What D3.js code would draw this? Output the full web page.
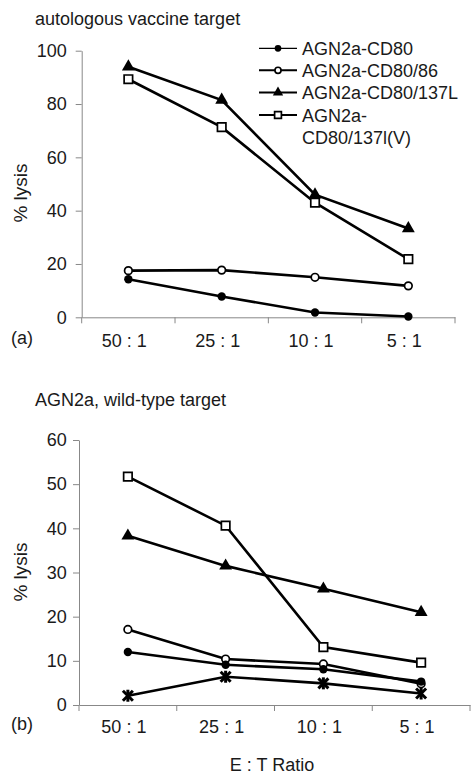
<!DOCTYPE html>
<html>
<head>
<meta charset="utf-8">
<script src="https://cdn.jsdelivr.net/npm/d3@7"></script>
<style>
  body { margin: 0; background: #fff; }
  svg text { font-family: "Liberation Sans", Arial, sans-serif; fill: #1a1a1a; }
</style>
</head>
<body>
<div id="chart"></div>
<script>
// E:T ratio categories (both panels)
const ratios = ["50 : 1", "25 : 1", "10 : 1", "5 : 1"];

// (a) autologous vaccine target, % lysis
const cd80_a     = [14.3, 7.8, 1.8, 0.3];
const cd8086_a   = [17.5, 17.7, 15.0, 11.8];
const cd80137L_a = [94.0, 81.5, 46.0, 33.3];
const cd80137V_a = [89.3, 71.3, 43.0, 21.8];

// (b) AGN2a wild-type target, % lysis
const cd80_b     = [12.0, 9.1, 8.1, 5.3];
const cd8086_b   = [17.1, 10.4, 9.3, 4.8];
const cd80137L_b = [38.3, 31.5, 26.3, 21.0];
const cd80137V_b = [51.7, 40.6, 13.1, 9.6];
const other_b    = [2.1, 6.4, 4.9, 2.6];   // series with star marker, not in legend

const ticksA = [0, 20, 40, 60, 80, 100];
const ticksB = [0, 10, 20, 30, 40, 50, 60];

const legendNames = ["AGN2a-CD80", "AGN2a-CD80/86", "AGN2a-CD80/137L", ["AGN2a-", "CD80/137l(V)"]];

const width = 473, height = 775;
const axisColor = "#888";

const svg = d3.select("#chart").append("svg")
  .attr("width", width)
  .attr("height", height);

// draw one marker type at (x, y)
function marker(g, type, x, y, scale) {
  const s = scale || 1;
  if (type === "dot") {
    g.append("circle").attr("cx", x).attr("cy", y).attr("r", 4.2 * s).attr("fill", "#000");
  } else if (type === "ring") {
    g.append("circle").attr("cx", x).attr("cy", y).attr("r", 3.8 * s)
      .attr("fill", "#fff").attr("stroke", "#000").attr("stroke-width", 1.7);
  } else if (type === "tri") {
    g.append("path").attr("transform", `translate(${x},${y})`)
      .attr("d", d3.symbol(d3.symbolTriangle, 72 * s * s)()).attr("fill", "#000");
  } else if (type === "square") {
    g.append("path").attr("transform", `translate(${x},${y})`)
      .attr("d", d3.symbol(d3.symbolSquare, 72 * s * s)())
      .attr("fill", "#fff").attr("stroke", "#000").attr("stroke-width", 1.7);
  } else if (type === "star") {
    const p = g.append("g").attr("transform", `translate(${x},${y})`)
      .attr("stroke", "#000").attr("stroke-width", 3);
    p.append("line").attr("x1", -5).attr("y1", -5).attr("x2", 5).attr("y2", 5);
    p.append("line").attr("x1", -5).attr("y1", 5).attr("x2", 5).attr("y2", -5);
    p.append("line").attr("x1", 0).attr("y1", -6).attr("x2", 0).attr("y2", 6);
  }
}

function panel(opt) {
  const x = d3.scaleBand().domain(ratios).range(opt.xRange).padding(0);
  const y = d3.scaleLinear().domain([0, opt.max]).range(opt.yRange);
  const g = svg.append("g");

  // y axis
  const ay = g.append("g")
    .attr("transform", `translate(${opt.xRange[0]},0)`)
    .call(d3.axisLeft(y).tickValues(opt.ticks).tickSizeInner(6).tickSizeOuter(0).tickPadding(opt.pad));
  ay.select(".domain").attr("stroke", axisColor);
  ay.selectAll(".tick line").attr("stroke", axisColor);
  ay.selectAll(".tick text").style("font-size", "18px").style("font-family", "Liberation Sans, Arial, sans-serif").attr("fill", "#1a1a1a");

  // x axis: line, tick marks on category boundaries, labels at centres
  const ax = g.append("g").attr("transform", `translate(0,${opt.yRange[0]})`)
    .call(d3.axisBottom(x).tickSize(0).tickPadding(opt.labelPad));
  ax.select(".domain").attr("stroke", axisColor);
  ax.selectAll(".tick text").style("font-size", "18px").style("font-family", "Liberation Sans, Arial, sans-serif")
    .attr("fill", "#1a1a1a").attr("dx", -4);
  const edges = ratios.map(r => x(r)).concat([x.range()[1]]);
  ax.selectAll("line.edge").data(edges).enter().append("line")
    .attr("class", "edge")
    .attr("x1", d => d).attr("x2", d => d).attr("y1", 0).attr("y2", 6)
    .attr("stroke", axisColor);

  // series
  const line = d3.line()
    .x((d, i) => x(ratios[i]) + x.bandwidth() / 2)
    .y(d => y(d));
  opt.series.forEach(s => {
    g.append("path").datum(s.values)
      .attr("d", line).attr("fill", "none").attr("stroke", "#000").attr("stroke-width", 2.6);
    s.values.forEach((v, i) => marker(g, s.type, x(ratios[i]) + x.bandwidth() / 2, y(v)));
  });

  // texts
  svg.append("text").attr("x", 35).attr("y", opt.titleY).style("font-size", "18px").text(opt.title);
  svg.append("text").attr("x", 11).attr("y", opt.tagY).style("font-size", "18px").text(opt.tag);
  svg.append("text")
    .attr("transform", `translate(${opt.ylabX},${opt.ylabY}) rotate(-90)`)
    .attr("text-anchor", "middle").style("font-size", "19px").text("% lysis");
}

panel({
  title: "autologous vaccine target", titleY: 24.5, tag: "(a)", tagY: 344,
  xRange: [81.7, 455], yRange: [317.3, 50.7], max: 100, ticks: ticksA, pad: 9, labelPad: 17,
  ylabX: 27, ylabY: 193,
  series: [
    { type: "dot", values: cd80_a },
    { type: "ring", values: cd8086_a },
    { type: "tri", values: cd80137L_a },
    { type: "square", values: cd80137V_a }
  ]
});

panel({
  title: "AGN2a, wild-type target", titleY: 406, tag: "(b)", tagY: 730,
  xRange: [79, 470], yRange: [705, 440], max: 60, ticks: ticksB, pad: 6.3, labelPad: 15,
  ylabX: 27, ylabY: 572,
  series: [
    { type: "square", values: cd80137V_b },
    { type: "tri", values: cd80137L_b },
    { type: "ring", values: cd8086_b },
    { type: "dot", values: cd80_b },
    { type: "star", values: other_b }
  ]
});

// x axis title
svg.append("text").attr("x", 272).attr("y", 771).attr("text-anchor", "middle")
  .style("font-size", "18px").text("E : T Ratio");

// legend (panel a)
const types = ["dot", "ring", "tri", "square"];
const leg = svg.append("g");
const rowY = [48.3, 70.3, 92.5, 115];
types.forEach((t, i) => {
  leg.append("line").attr("x1", 259).attr("x2", 297).attr("y1", rowY[i]).attr("y2", rowY[i])
    .attr("stroke", "#000").attr("stroke-width", i === 0 ? 1.2 : 2);
  marker(leg, t, 278, rowY[i], 0.8);
  const name = legendNames[i];
  const txt = leg.append("text").attr("x", 302).attr("y", rowY[i] + 6.5).style("font-size", "18px");
  if (Array.isArray(name)) {
    txt.text(name[0]);
    leg.append("text").attr("x", 302).attr("y", rowY[i] + 28.5).style("font-size", "18px").text(name[1]);
  } else {
    txt.text(name);
  }
});
</script>
</body>
</html>
